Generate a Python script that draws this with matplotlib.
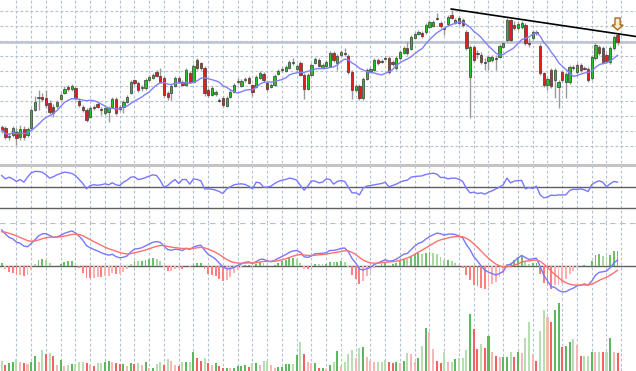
import matplotlib
matplotlib.use("Agg")
import matplotlib.pyplot as plt
from matplotlib.patches import FancyArrow
import numpy as np
import pandas as pd

# daily bars, oldest first
opens = [17.3, 17.2, 16.3, 16.5, 16.8, 16.3, 17.1, 16.5, 17.2, 19.0,
         20.2, 20.3, 20.2, 19.7, 19.3, 19.4, 20.1, 20.7, 21.3, 21.1,
         21.2, 19.9, 19.3, 19.0, 18.3, 19.3, 19.6, 19.1, 18.7, 18.8,
         19.3, 20.1, 19.3, 19.3, 19.8, 20.7, 22.0, 21.7, 21.2, 21.2,
         22.0, 22.2, 22.8, 22.4, 22.2, 20.7, 20.7, 21.4, 22.2, 21.8,
         21.5, 22.7, 21.8, 24.0, 23.7, 23.2, 21.0, 20.5, 20.6, 20.0,
         20.2, 19.4, 20.3, 20.8, 21.8, 21.4, 22.0, 22.2, 21.5, 21.3,
         22.2, 22.6, 21.7, 21.3, 21.5, 22.6, 23.0, 22.9, 23.2, 23.8,
         23.1, 23.7, 22.5, 21.1, 22.5, 23.7, 24.0, 23.2, 23.4, 23.4,
         24.7, 23.7, 24.5, 24.7, 24.4, 22.8, 21.0, 21.4, 20.2, 22.1,
         22.9, 23.0, 24.0, 23.9, 24.2, 24.2, 23.8, 23.2, 24.2, 24.7,
         25.2, 25.1, 26.2, 26.6, 26.7, 26.8, 27.3, 27.4, 28.2, 27.7,
         27.2, 27.6, 28.5, 27.7, 28.2, 28.0, 26.8, 22.3, 25.3, 24.7,
         24.5, 23.8, 23.9, 24.0, 24.2, 24.3, 25.3, 26.0, 28.0, 27.5,
         27.2, 27.3, 27.5, 25.7, 26.2, 26.8, 25.4, 22.7, 21.5, 23.0,
         22.0, 21.3, 22.8, 21.8, 21.8, 23.3, 22.8, 23.5, 23.2, 23.1,
         22.2, 24.2, 25.3, 25.2, 24.5, 23.8, 25.2, 26.5]
highs = [17.5, 17.4, 16.7, 17.4, 17.2, 17.5, 17.4, 17.3, 19.2, 20.4,
         21.0, 20.7, 21.0, 20.0, 19.6, 20.0, 20.7, 21.4, 21.5, 21.6,
         21.4, 20.2, 19.5, 19.2, 19.4, 19.5, 19.8, 19.3, 19.4, 19.4,
         20.3, 20.3, 19.5, 20.0, 20.5, 22.0, 22.1, 21.9, 21.5, 22.2,
         22.5, 22.7, 23.0, 23.2, 22.4, 20.9, 21.6, 22.4, 22.4, 22.0,
         23.2, 22.9, 23.6, 24.2, 23.8, 23.4, 21.2, 21.4, 21.0, 20.2,
         20.4, 20.4, 21.1, 21.7, 22.2, 22.1, 22.3, 22.4, 21.6, 22.5,
         22.9, 22.8, 21.9, 21.7, 22.6, 23.1, 23.3, 23.5, 24.0, 24.2,
         23.6, 23.9, 22.7, 22.7, 23.7, 24.3, 24.2, 23.7, 24.0, 24.9,
         24.9, 24.6, 25.0, 25.2, 24.6, 23.0, 21.6, 21.6, 22.3, 23.2,
         23.3, 24.2, 24.2, 24.1, 24.4, 24.4, 24.0, 24.4, 25.0, 25.4,
         25.8, 26.5, 26.8, 27.0, 26.9, 27.7, 28.0, 28.0, 28.7, 27.9,
         27.3, 28.5, 29.0, 28.2, 28.4, 28.2, 27.0, 25.5, 25.5, 25.0,
         24.8, 24.2, 24.5, 24.5, 24.5, 25.6, 25.8, 28.2, 28.1, 27.9,
         27.8, 27.9, 27.7, 26.2, 27.0, 27.0, 25.6, 22.8, 22.3, 23.2,
         23.2, 22.0, 23.0, 22.8, 23.5, 23.5, 23.7, 23.7, 23.4, 23.3,
         24.5, 25.7, 25.5, 25.4, 24.7, 25.4, 26.5, 26.7]
lows = [16.7, 16.1, 16.0, 16.3, 15.5, 16.0, 16.0, 16.3, 17.0, 18.9,
        19.0, 19.9, 19.2, 18.6, 18.3, 19.2, 20.0, 20.6, 20.9, 20.9,
        20.0, 19.3, 18.8, 17.8, 18.2, 19.0, 19.2, 18.5, 18.5, 17.8,
        19.2, 18.5, 18.9, 18.7, 19.7, 20.6, 21.5, 20.8, 20.9, 21.0,
        21.9, 22.1, 22.3, 21.7, 20.3, 20.0, 20.0, 21.3, 21.7, 21.4,
        21.4, 21.7, 21.7, 23.0, 23.0, 20.4, 20.3, 20.4, 20.4, 19.8,
        19.3, 19.3, 20.2, 20.7, 21.6, 21.3, 21.8, 21.6, 20.4, 21.2,
        22.1, 21.8, 20.9, 21.2, 21.4, 22.5, 22.8, 22.8, 23.1, 23.5,
        22.8, 22.4, 20.1, 21.0, 22.4, 23.6, 23.3, 23.1, 23.2, 23.3,
        23.8, 23.0, 24.4, 24.4, 22.6, 20.1, 20.8, 20.0, 20.0, 22.0,
        22.8, 22.9, 23.5, 23.7, 24.0, 22.6, 23.4, 23.0, 24.0, 24.6,
        24.5, 25.0, 26.1, 26.5, 26.2, 26.6, 27.2, 27.3, 28.0, 27.2,
        26.5, 27.4, 28.1, 27.6, 27.5, 27.3, 25.0, 18.2, 23.8, 24.2,
        23.6, 23.0, 23.0, 23.8, 23.0, 24.2, 25.2, 25.8, 25.8, 27.0,
        27.0, 27.1, 25.5, 25.3, 26.0, 26.5, 22.5, 21.3, 21.0, 21.2,
        20.2, 19.2, 21.8, 20.2, 21.6, 23.0, 22.6, 22.8, 23.0, 21.8,
        22.0, 24.0, 24.5, 23.6, 23.7, 23.6, 25.0, 25.5]
closes = [17.0, 16.3, 16.4, 17.2, 16.2, 17.1, 16.3, 17.1, 19.0, 19.8,
          20.3, 20.1, 19.5, 18.8, 18.7, 19.8, 20.5, 21.1, 21.1, 21.4,
          20.2, 19.5, 19.0, 18.0, 19.2, 19.25, 19.3, 19.0, 19.2, 19.2,
          20.1, 18.7, 19.1, 19.8, 20.3, 21.8, 21.7, 21.0, 21.3, 22.0,
          22.3, 22.5, 22.4, 21.8, 20.5, 20.3, 21.4, 22.2, 21.8, 21.5,
          23.0, 21.8, 23.4, 23.2, 23.2, 20.7, 20.5, 21.2, 20.8, 19.95,
          19.5, 20.2, 20.8, 21.5, 21.85, 21.9, 22.1, 21.7, 20.8, 22.3,
          22.7, 22.0, 21.1, 21.5, 22.4, 22.9, 23.05, 23.3, 23.8, 23.7,
          23.4, 22.5, 21.1, 22.5, 23.5, 24.1, 23.4, 23.5, 23.8, 24.7,
          24.0, 24.4, 24.8, 24.65, 22.8, 21.0, 21.4, 20.2, 22.1, 23.0,
          23.1, 24.0, 23.7, 23.85, 24.15, 22.8, 23.6, 24.2, 24.8, 25.2,
          24.7, 26.3, 26.6, 26.8, 26.4, 27.5, 27.8, 27.8, 28.15, 27.4,
          27.1, 28.3, 28.2, 28.0, 27.7, 27.5, 25.2, 25.3, 24.0, 24.65,
          23.8, 23.75, 24.3, 24.3, 24.15, 25.4, 25.7, 28.0, 26.0, 27.2,
          27.6, 27.7, 25.7, 25.65, 26.8, 26.75, 22.7, 21.5, 22.1, 21.4,
          23.0, 21.8, 22.0, 22.6, 23.3, 23.2, 23.5, 23.0, 23.15, 22.0,
          24.3, 25.5, 24.7, 23.8, 23.9, 25.2, 26.3, 25.8]
volumes = [100, 60, 77, 87, 120, 87, 77, 67, 87, 150,
           90, 210, 167, 177, 150, 60, 110, 53, 60, 67,
           67, 87, 87, 77, 60, 53, 77, 77, 87, 100,
           87, 77, 67, 67, 53, 77, 67, 77, 60, 87,
           33, 33, 67, 87, 60, 120, 100, 60, 50, 87,
           87, 93, 187, 133, 100, 127, 77, 60, 77, 53,
           33, 33, 27, 27, 53, 53, 60, 43, 77, 77,
           60, 100, 100, 60, 33, 43, 43, 67, 67, 67,
           160, 287, 167, 87, 77, 77, 27, 27, 20, 60,
           87, 200, 53, 87, 167, 210, 133, 227, 237, 143,
           100, 93, 93, 93, 110, 93, 77, 87, 77, 100,
           177, 173, 93, 133, 253, 427, 387, 220, 100, 77,
           187, 87, 93, 120, 133, 133, 210, 567, 420, 220,
           267, 227, 353, 187, 153, 143, 143, 143, 187, 143,
           187, 177, 333, 493, 167, 100, 400, 610, 543, 493,
           610, 677, 243, 253, 287, 320, 260, 153, 153, 153,
           193, 187, 193, 187, 193, 333, 187, 177]
# RSI
rsi_values = [60.2, 57.1, 58.7, 57.1, 54.7, 56.5, 54.0, 58.7, 62.7, 64.0,
              64.0, 63.3, 60.9, 57.8, 59.0, 60.9, 62.1, 63.3, 63.0, 62.1,
              60.2, 56.5, 52.8, 47.8, 50.9, 51.6, 51.2, 51.6, 52.5, 51.6,
              53.4, 51.6, 50.9, 54.0, 55.9, 58.7, 59.0, 56.5, 57.1, 58.4,
              59.6, 60.9, 60.2, 55.6, 49.4, 50.9, 54.0, 56.5, 52.8, 56.5,
              56.5, 52.2, 57.1, 56.5, 55.3, 47.8, 47.8, 47.5, 46.6, 45.3,
              43.5, 47.8, 49.7, 51.6, 52.2, 52.5, 51.9, 50.3, 47.8, 54.0,
              53.4, 49.4, 49.4, 50.3, 52.8, 54.7, 55.9, 56.5, 57.8, 57.1,
              55.9, 50.9, 46.6, 50.3, 55.3, 55.0, 53.4, 54.0, 57.1, 56.5,
              52.2, 54.7, 55.6, 54.7, 49.4, 44.1, 44.1, 42.2, 48.4, 50.3,
              50.9, 51.6, 52.2, 52.8, 54.0, 49.7, 50.9, 52.2, 54.0, 55.3,
              55.9, 58.7, 59.3, 59.6, 59.9, 61.2, 61.8, 62.4, 61.5, 58.4,
              58.4, 57.1, 57.8, 57.8, 56.8, 54.7, 48.4, 44.1, 44.7, 43.5,
              44.1, 42.9, 44.7, 46.0, 47.8, 49.4, 51.6, 57.8, 53.4, 55.0,
              55.6, 55.6, 47.8, 49.1, 48.1, 50.3, 42.2, 39.5, 40.1, 42.0,
              41.6, 42.2, 42.2, 42.2, 46.3, 47.5, 47.2, 47.8, 46.9, 45.3,
              51.6, 54.0, 55.3, 54.0, 49.7, 52.5, 54.7, 54.0]
# MACD state at the left edge of the chart
macd_start = 1.5
signal_start = 1.3

# drawn annotations
trend_idx = [121.9, 172.0]
trend_price = [29.1, 26.35]
level_price = 25.8

n = len(closes)
x = np.arange(n)
o = np.array(opens)
h = np.array(highs)
l = np.array(lows)
c = np.array(closes)
v = np.array(volumes)


def ema(values, span, seed):
    a = 2 / (span + 1)
    out = []
    prev = seed
    for val in values:
        prev = prev + a * (val - prev)
        out.append(prev)
    return np.array(out)


ma10 = pd.Series(c).rolling(10, min_periods=1).mean()
macd = ema(c, 12, c[0]) - ema(c, 26, c[0] - macd_start)
signal = ema(macd, 9, signal_start)
hist = macd - signal

W, H = 636, 371
fig = plt.figure(figsize=(W / 100, H / 100), dpi=100)
fig.patch.set_facecolor('white')

GRID = '#b4bfcf'
DASH = (0, (2.5, 2))


def panel(top, bottom):
    ax = fig.add_axes([0, 1 - bottom / H, 1, (bottom - top) / H])
    ax.set_xlim(-0.46, 172.0)
    ax.set_xticks(np.arange(4, 172, 4))
    ax.tick_params(length=0, labelbottom=False, labelleft=False)
    ax.grid(axis='x', color=GRID, linestyle=DASH, linewidth=0.8)
    ax.set_axisbelow(True)
    for s in ax.spines.values():
        s.set_visible(False)
    return ax


# price panel
ax1 = panel(0, 163)
ax1.set_ylim(13.7, 30.0)
ax1.set_yticks(28.9 - 1.5 * np.arange(10))
ax1.grid(axis='y', color=GRID, linestyle=DASH, linewidth=0.8)
ax1.axhline(level_price, color='#c4c8d0', linewidth=2, zorder=0.5)

up = c >= o
ax1.vlines(x, l, h, color='#9a9a9a', linewidth=1, zorder=1)
body = np.maximum(np.abs(c - o), 0.06)
ax1.bar(x, body, bottom=np.minimum(o, c), width=0.62,
        color=np.where(up, '#22c322', '#e01e1e'),
        edgecolor='#3a3a3a', linewidth=0.5, zorder=2)
ax1.plot(x, ma10, color='#8080ff', linewidth=1, zorder=3)
ax1.plot(trend_idx, trend_price, color='black', linewidth=1.2, zorder=4)
tip = h[-1] + 0.3
ax1.add_patch(FancyArrow(x[-1], tip + 1.2, 0, -1.2, width=1.4, head_width=3.0,
                         head_length=0.5, length_includes_head=True,
                         facecolor='#fbe9c8', edgecolor='#a86a1e', linewidth=1, zorder=5))

# RSI panel
ax2 = panel(163, 223)
ax2.set_ylim(16.05, 71.86)
ax2.axhline(70, color='#c4c4c4', linewidth=2.2)
ax2.axhline(50, color='#606060', linewidth=1)
ax2.axhline(30, color='#606060', linewidth=1)
ax2.plot(x, rsi_values, color='#7878ff', linewidth=1)

# MACD panel
ax3 = panel(223, 300)
ax3.set_ylim(-1.308, 1.654)
ax3.axhline(1.654, color=GRID, linestyle=DASH, linewidth=1.6)
ax3.axhline(0, color='#606060', linewidth=1, zorder=1)
shrink = np.abs(hist) < np.abs(np.r_[hist[0], hist[:-1]])
hist_col = np.where(hist >= 0, np.where(shrink, '#a8d8a0', '#6cc06c'),
                    np.where(shrink, '#ffb0b0', '#ff7f7f'))
ax3.bar(x, hist * 1.5, width=0.5, color=hist_col, zorder=2)
ax3.plot(x, macd, color='#7878ff', linewidth=1, zorder=3)
ax3.plot(x, signal, color='#ff7070', linewidth=1, zorder=3)

# volume panel: green when volume rises, paler when the candle went the other way
ax4 = panel(300, 371)
ax4.set_ylim(0, 710)
prev = np.r_[v[0], v[:-1]]
rising = v >= prev
vol_col = np.where(rising, np.where(up, '#5cb85c', '#b9ddb2'),
                   np.where(~up, '#f26262', '#f9b6b6'))
ax4.bar(x, v, width=0.55, color=vol_col)

fig.savefig('out.png', dpi=100)
